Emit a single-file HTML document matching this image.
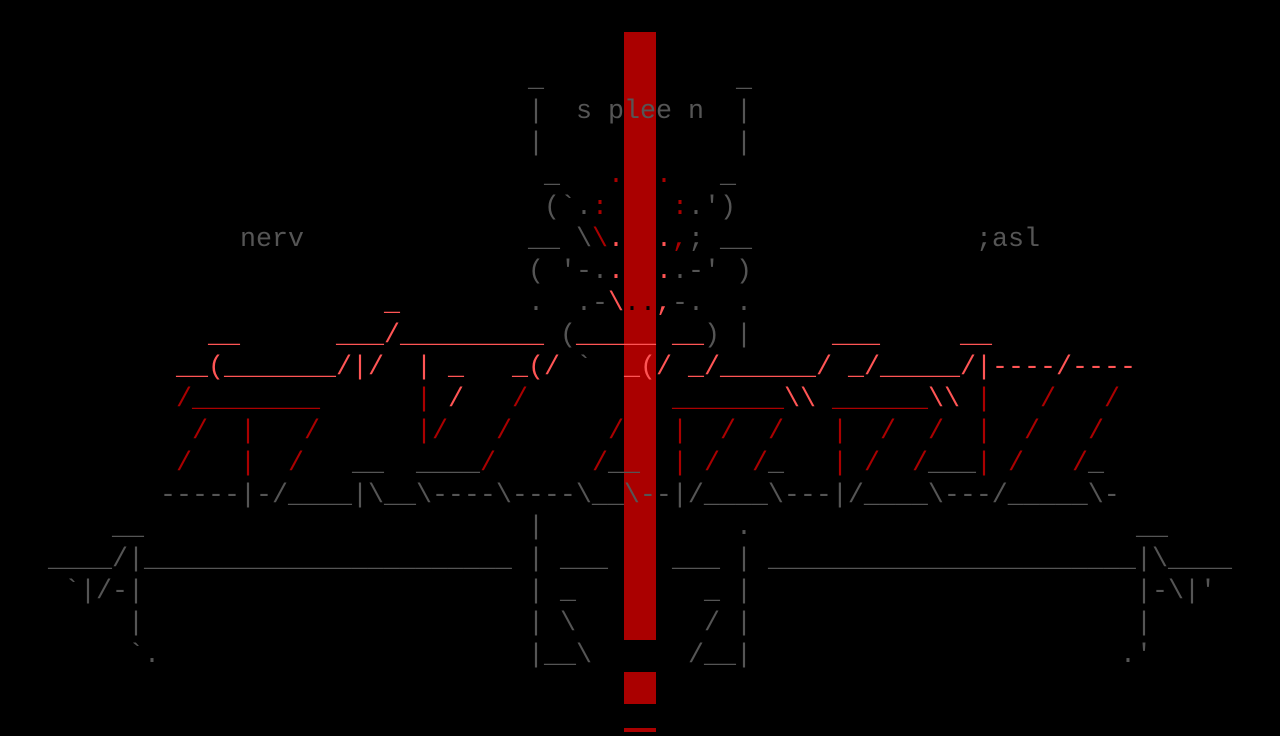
<!DOCTYPE html>
<html><head><meta charset="utf-8"><style>
html,body{margin:0;padding:0;background:#000;width:1280px;height:736px;overflow:hidden;position:relative}
.t{position:absolute;white-space:pre;font-family:"Liberation Mono",monospace;font-size:26.67px;line-height:32px;height:32px}
.g{color:#555}.r{color:#ff5555}.d{color:#aa0000}.k{color:#000}
.bar{position:absolute;background:#aa0000;left:624px;width:32px}
</style></head><body>
<div class="bar" style="top:32px;height:608px"></div>
<div class="bar" style="top:672px;height:32px"></div>
<div class="bar" style="top:728px;height:4px"></div>

<div class="t g" style="left:528px;top:64px">_</div>
<div class="t g" style="left:736px;top:64px">_</div>

<div class="t g" style="left:528px;top:96px">|  s plee n  |</div>

<div class="t g" style="left:528px;top:128px">|</div>
<div class="t g" style="left:736px;top:128px">|</div>

<div class="t g" style="left:544px;top:160px">_</div>
<div class="t d" style="left:608px;top:160px">.</div>
<div class="t d" style="left:656px;top:160px">.</div>
<div class="t g" style="left:720px;top:160px">_</div>

<div class="t g" style="left:544px;top:192px">(`.</div>
<div class="t d" style="left:592px;top:192px">:</div>
<div class="t d" style="left:672px;top:192px">:</div>
<div class="t g" style="left:688px;top:192px">.')</div>

<div class="t g" style="left:240px;top:224px">nerv</div>
<div class="t g" style="left:528px;top:224px">__</div>
<div class="t g" style="left:576px;top:224px">\</div>
<div class="t d" style="left:592px;top:224px">\</div>
<div class="t r" style="left:608px;top:224px">.</div>
<div class="t r" style="left:656px;top:224px">.</div>
<div class="t d" style="left:672px;top:224px">,</div>
<div class="t g" style="left:688px;top:224px">;</div>
<div class="t g" style="left:720px;top:224px">__</div>
<div class="t g" style="left:976px;top:224px">;asl</div>

<div class="t g" style="left:528px;top:256px">( '-.</div>
<div class="t r" style="left:608px;top:256px">.</div>
<div class="t r" style="left:656px;top:256px">.</div>
<div class="t g" style="left:672px;top:256px">.-' )</div>

<div class="t r" style="left:384px;top:288px">_</div>
<div class="t g" style="left:528px;top:288px">.  .-</div>
<div class="t r" style="left:608px;top:288px">\</div>
<div class="t k" style="left:624px;top:288px">..</div>
<div class="t r" style="left:656px;top:288px">,</div>
<div class="t g" style="left:672px;top:288px">-.</div>
<div class="t g" style="left:736px;top:288px">.</div>

<div class="t r" style="left:208px;top:320px">__</div>
<div class="t r" style="left:336px;top:320px">___/_________</div>
<div class="t g" style="left:560px;top:320px">(</div>
<div class="t r" style="left:576px;top:320px">_____</div>
<div class="t r" style="left:672px;top:320px">__</div>
<div class="t g" style="left:704px;top:320px">)</div>
<div class="t g" style="left:736px;top:320px">|</div>
<div class="t r" style="left:832px;top:320px">___</div>
<div class="t r" style="left:960px;top:320px">__</div>

<div class="t r" style="left:176px;top:352px">__(_______/|/</div>
<div class="t r" style="left:416px;top:352px">|</div>
<div class="t r" style="left:448px;top:352px">_</div>
<div class="t r" style="left:512px;top:352px">_(/</div>
<div class="t g" style="left:576px;top:352px">`</div>
<div class="t r" style="left:624px;top:352px">_(/</div>
<div class="t r" style="left:688px;top:352px">_/______/</div>
<div class="t r" style="left:848px;top:352px">_/_____/|----/----</div>

<div class="t d" style="left:176px;top:384px">/________</div>
<div class="t d" style="left:416px;top:384px">|</div>
<div class="t r" style="left:448px;top:384px">/</div>
<div class="t d" style="left:512px;top:384px">/</div>
<div class="t d" style="left:672px;top:384px">_______</div>
<div class="t r" style="left:784px;top:384px">\\</div>
<div class="t d" style="left:832px;top:384px">______</div>
<div class="t r" style="left:928px;top:384px">\\</div>
<div class="t d" style="left:976px;top:384px">|</div>
<div class="t d" style="left:1040px;top:384px">/</div>
<div class="t d" style="left:1104px;top:384px">/</div>

<div class="t d" style="left:192px;top:416px">/</div>
<div class="t d" style="left:240px;top:416px">|</div>
<div class="t d" style="left:304px;top:416px">/</div>
<div class="t d" style="left:416px;top:416px">|/</div>
<div class="t d" style="left:496px;top:416px">/</div>
<div class="t d" style="left:608px;top:416px">/</div>
<div class="t d" style="left:672px;top:416px">|</div>
<div class="t d" style="left:720px;top:416px">/</div>
<div class="t d" style="left:768px;top:416px">/</div>
<div class="t d" style="left:832px;top:416px">|</div>
<div class="t d" style="left:880px;top:416px">/</div>
<div class="t d" style="left:928px;top:416px">/</div>
<div class="t d" style="left:976px;top:416px">|</div>
<div class="t d" style="left:1024px;top:416px">/</div>
<div class="t d" style="left:1088px;top:416px">/</div>

<div class="t d" style="left:176px;top:448px">/</div>
<div class="t d" style="left:240px;top:448px">|</div>
<div class="t d" style="left:288px;top:448px">/</div>
<div class="t g" style="left:352px;top:448px">__</div>
<div class="t g" style="left:416px;top:448px">____</div>
<div class="t d" style="left:480px;top:448px">/</div>
<div class="t d" style="left:592px;top:448px">/</div>
<div class="t g" style="left:608px;top:448px">__</div>
<div class="t d" style="left:672px;top:448px">|</div>
<div class="t d" style="left:704px;top:448px">/</div>
<div class="t d" style="left:752px;top:448px">/</div>
<div class="t g" style="left:768px;top:448px">_</div>
<div class="t d" style="left:832px;top:448px">|</div>
<div class="t d" style="left:864px;top:448px">/</div>
<div class="t d" style="left:912px;top:448px">/</div>
<div class="t g" style="left:928px;top:448px">___</div>
<div class="t d" style="left:976px;top:448px">|</div>
<div class="t d" style="left:1008px;top:448px">/</div>
<div class="t d" style="left:1072px;top:448px">/</div>
<div class="t g" style="left:1088px;top:448px">_</div>

<div class="t g" style="left:160px;top:480px">-----|-/____|\__\----\----\__\--|/____\---|/____\---/_____\-</div>

<div class="t g" style="left:112px;top:512px">__</div>
<div class="t g" style="left:528px;top:512px">|</div>
<div class="t g" style="left:736px;top:512px">.</div>
<div class="t g" style="left:1136px;top:512px">__</div>

<div class="t g" style="left:48px;top:544px">____/|_______________________</div>
<div class="t g" style="left:528px;top:544px">|</div>
<div class="t g" style="left:560px;top:544px">___</div>
<div class="t g" style="left:672px;top:544px">___</div>
<div class="t g" style="left:736px;top:544px">|</div>
<div class="t g" style="left:768px;top:544px">_______________________</div>
<div class="t g" style="left:1136px;top:544px">|\____</div>

<div class="t g" style="left:64px;top:576px">`|/-|</div>
<div class="t g" style="left:528px;top:576px">|</div>
<div class="t g" style="left:560px;top:576px">_</div>
<div class="t g" style="left:704px;top:576px">_</div>
<div class="t g" style="left:736px;top:576px">|</div>
<div class="t g" style="left:1136px;top:576px">|-\|'</div>

<div class="t g" style="left:128px;top:608px">|</div>
<div class="t g" style="left:528px;top:608px">|</div>
<div class="t g" style="left:560px;top:608px">\</div>
<div class="t g" style="left:704px;top:608px">/</div>
<div class="t g" style="left:736px;top:608px">|</div>
<div class="t g" style="left:1136px;top:608px">|</div>

<div class="t g" style="left:128px;top:640px">`.</div>
<div class="t g" style="left:528px;top:640px">|__\</div>
<div class="t g" style="left:688px;top:640px">/__|</div>
<div class="t g" style="left:1120px;top:640px">.'</div>
</body></html>
